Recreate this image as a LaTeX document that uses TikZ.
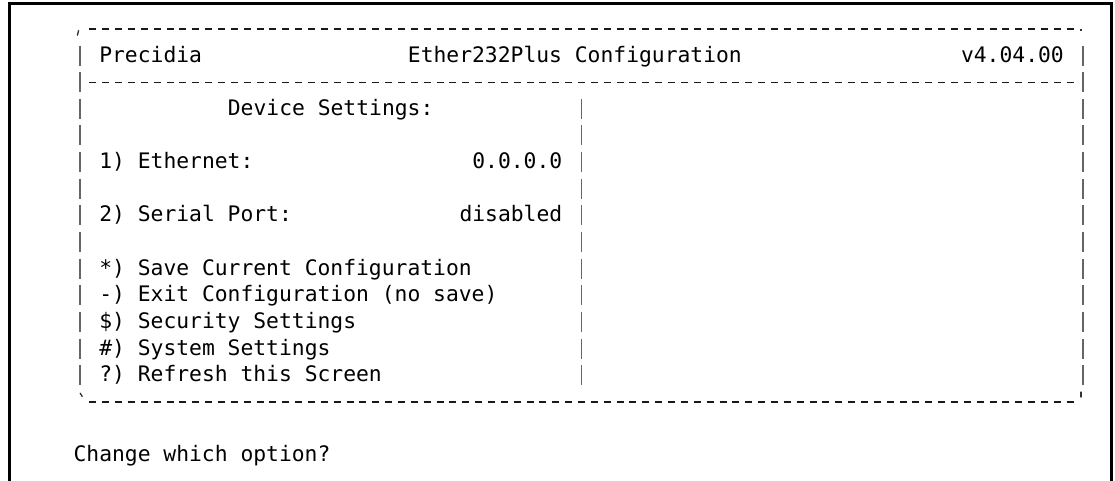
\documentclass[tikz,border=0pt]{standalone}
\usepackage{fontspec}
\newfontfamily\termfont{DejaVu Sans Mono}
\frenchspacing
\newcommand\colL[1]{73.57+12.86*#1}
\newcommand\colC[1]{80+12.86*#1}
\newcommand\rowB[1]{35.4+26.64*#1}
\tikzset{
  txt/.style={anchor=base west, inner sep=0pt, outer sep=0pt, text=black,
    font=\termfont\fontsize{16}{16}\selectfont\frenchspacing},
  txtr/.style={txt, anchor=base east},
  dashline/.style={line width=1.1pt, black!90, dash pattern=on 5.25pt off 4.395pt},
  vbar/.style={line width=1.3pt, black!60},
  tick/.style={line width=1pt, black!80, line cap=round},
  frame/.style={line width=2pt, black}
}
\begin{document}
\begin{tikzpicture}[x=0.75pt, y=-0.75pt]
\useasboundingbox (0,0) rectangle (1115,480);
% outer frame
\draw[frame] (9.7,482) -- (9.7,3.7) -- (1111.3,3.7) -- (1111.3,482);
% horizontal dashed rules (rows 0, 2, 14)
\foreach \r in {0,2,14} {
  \draw[dashline] ({\colC{1}-3.5},{\rowB{\r}-6.4}) -- ({\colC{77}+3.5},{\rowB{\r}-6.4});
}
% vertical bars
\foreach \r in {1,...,13} {
  \draw[vbar] ({\colC{0}},{\rowB{\r}-16.5}) -- ({\colC{0}},{\rowB{\r}+3.5});
  \draw[vbar] ({\colC{78}},{\rowB{\r}-16.5}) -- ({\colC{78}},{\rowB{\r}+3.5});
}
\foreach \r in {3,...,13} {
  \draw[vbar] ({\colC{39}},{\rowB{\r}-16.5}) -- ({\colC{39}},{\rowB{\r}+3.5});
}
% corner glyphs
\draw[tick] (78.6,30.5) -- (77.4,35.2);
\fill[black!80] (1080.2,28.8) rectangle (1081.8,30.6);
\draw[tick] (80.2,393.2) -- (82.2,396.4);
\draw[tick] (1081,392) -- (1081,397);
% texts
\node[txt] (brand) at ({\colL{2}},{\rowB{1}}) {Precidia};
\node[txt] (title) at ({\colL{26}},{\rowB{1}}) {Ether232Plus Configuration};
\node[txtr] (version) at ({\colL{77}},{\rowB{1}}) {v4.04.00};
\node[txt] (devset) at ({\colL{12}},{\rowB{3}}) {Device Settings:};
\node[txt] (eth) at ({\colL{2}},{\rowB{5}}) {1) Ethernet:};
\node[txtr] (ethval) at ({\colL{38}},{\rowB{5}}) {0.0.0.0};
\node[txt] (ser) at ({\colL{2}},{\rowB{7}}) {2) Serial Port:};
\node[txtr] (serval) at ({\colL{38}},{\rowB{7}}) {disabled};
\node[txt] (save) at ({\colL{2}},{\rowB{9}}) {*) Save Current Configuration};
\node[txt] (exit) at ({\colL{2}},{\rowB{10}}) {-) Exit Configuration (no save)};
\node[txt] (sec) at ({\colL{2}},{\rowB{11}}) {\$) Security Settings};
\node[txt] (sys) at ({\colL{2}},{\rowB{12}}) {\#) System Settings};
\node[txt] (refresh) at ({\colL{2}},{\rowB{13}}) {?) Refresh this Screen};
\node[txt] (prompt) at ({\colL{0}},{\rowB{16}}) {Change which option?};
\end{tikzpicture}
\end{document}
